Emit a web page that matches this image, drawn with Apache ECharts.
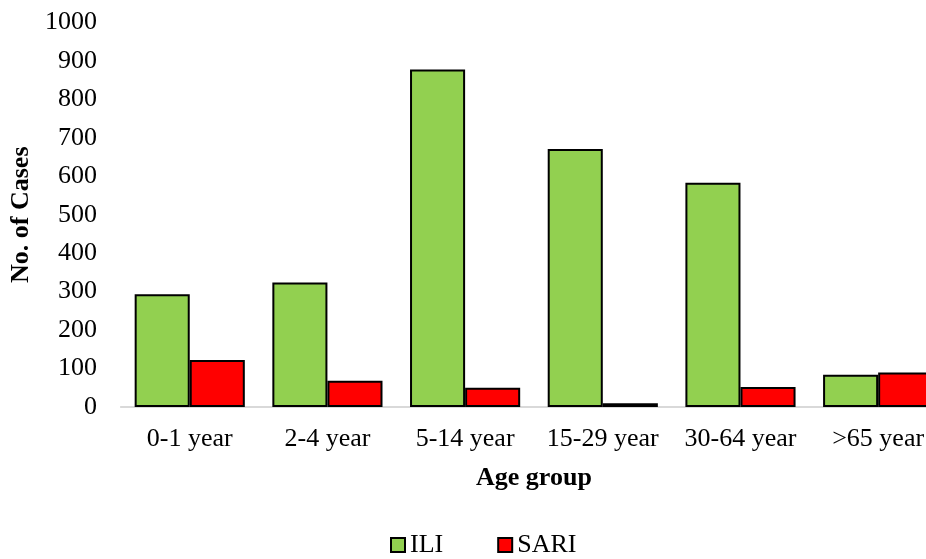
<!DOCTYPE html>
<html>
<head>
<meta charset="utf-8">
<script src="https://cdn.jsdelivr.net/npm/echarts@6/dist/echarts.min.js"></script>
<style>
  html, body { margin: 0; padding: 0; background: #fff; overflow: hidden; }
  /* the chart is wider than the window, so the last group runs off the right edge */
  #chart { width: 960px; height: 559px; }
</style>
</head>
<body>
<div id="chart"></div>
<script>
// Age groups on the category axis
const ageGroups = ['0-1 year', '2-4 year', '5-14 year', '15-29 year', '30-64 year', '>65 year'];
// Influenza-like illness cases per age group
const iliCases = [293, 324, 878, 671, 583, 84];
// Severe acute respiratory infection cases per age group
const sariCases = [122, 68, 50, 10, 52, 90];
// Value axis range
const yMin = 0;
const yMax = 1000;
const yStep = 100;

const FONT = '"Liberation Serif", "Times New Roman", serif';

const chart = echarts.init(document.getElementById('chart'), null, { renderer: 'canvas' });

chart.setOption({
  backgroundColor: '#ffffff',
  animation: false,
  textStyle: { fontFamily: FONT, color: '#000' },
  grid: { left: 119, right: 13, top: 22.5, bottom: 152, containLabel: false },
  legend: {
    left: 390,
    top: 532,
    padding: 0,
    itemWidth: 14,
    itemHeight: 14,
    itemGap: 54,
    icon: 'rect',
    textStyle: { fontFamily: FONT, fontSize: 26, color: '#000' },
    data: ['ILI', 'SARI']
  },
  xAxis: {
    type: 'category',
    data: ageGroups,
    name: 'Age group',
    nameLocation: 'middle',
    nameGap: 58,
    nameTextStyle: { fontFamily: FONT, fontSize: 26, fontWeight: 'bold', color: '#000' },
    axisLine: { show: true, lineStyle: { color: '#d9d9d9', width: 2 } },
    axisTick: { show: false },
    axisLabel: { fontFamily: FONT, fontSize: 26, color: '#000', margin: 19, interval: 0 },
    splitLine: { show: false }
  },
  yAxis: {
    type: 'value',
    min: yMin,
    max: yMax,
    interval: yStep,
    name: 'No. of Cases',
    nameLocation: 'middle',
    nameGap: 84,
    nameTextStyle: { fontFamily: FONT, fontSize: 26, fontWeight: 'bold', color: '#000' },
    axisLine: { show: false },
    axisTick: { show: false },
    axisLabel: {
      fontFamily: FONT, fontSize: 26, color: '#000', margin: 24,
      formatter: (v) => String(v)
    },
    splitLine: { show: false }
  },
  series: [
    {
      name: 'ILI',
      type: 'bar',
      data: iliCases,
      barGap: '0%',
      barCategoryGap: '20%',
      itemStyle: { color: '#92d050', borderColor: '#000', borderWidth: 2 }
    },
    {
      name: 'SARI',
      type: 'bar',
      data: sariCases,
      itemStyle: { color: '#ff0000', borderColor: '#000', borderWidth: 2 }
    }
  ]
});
</script>
</body>
</html>
